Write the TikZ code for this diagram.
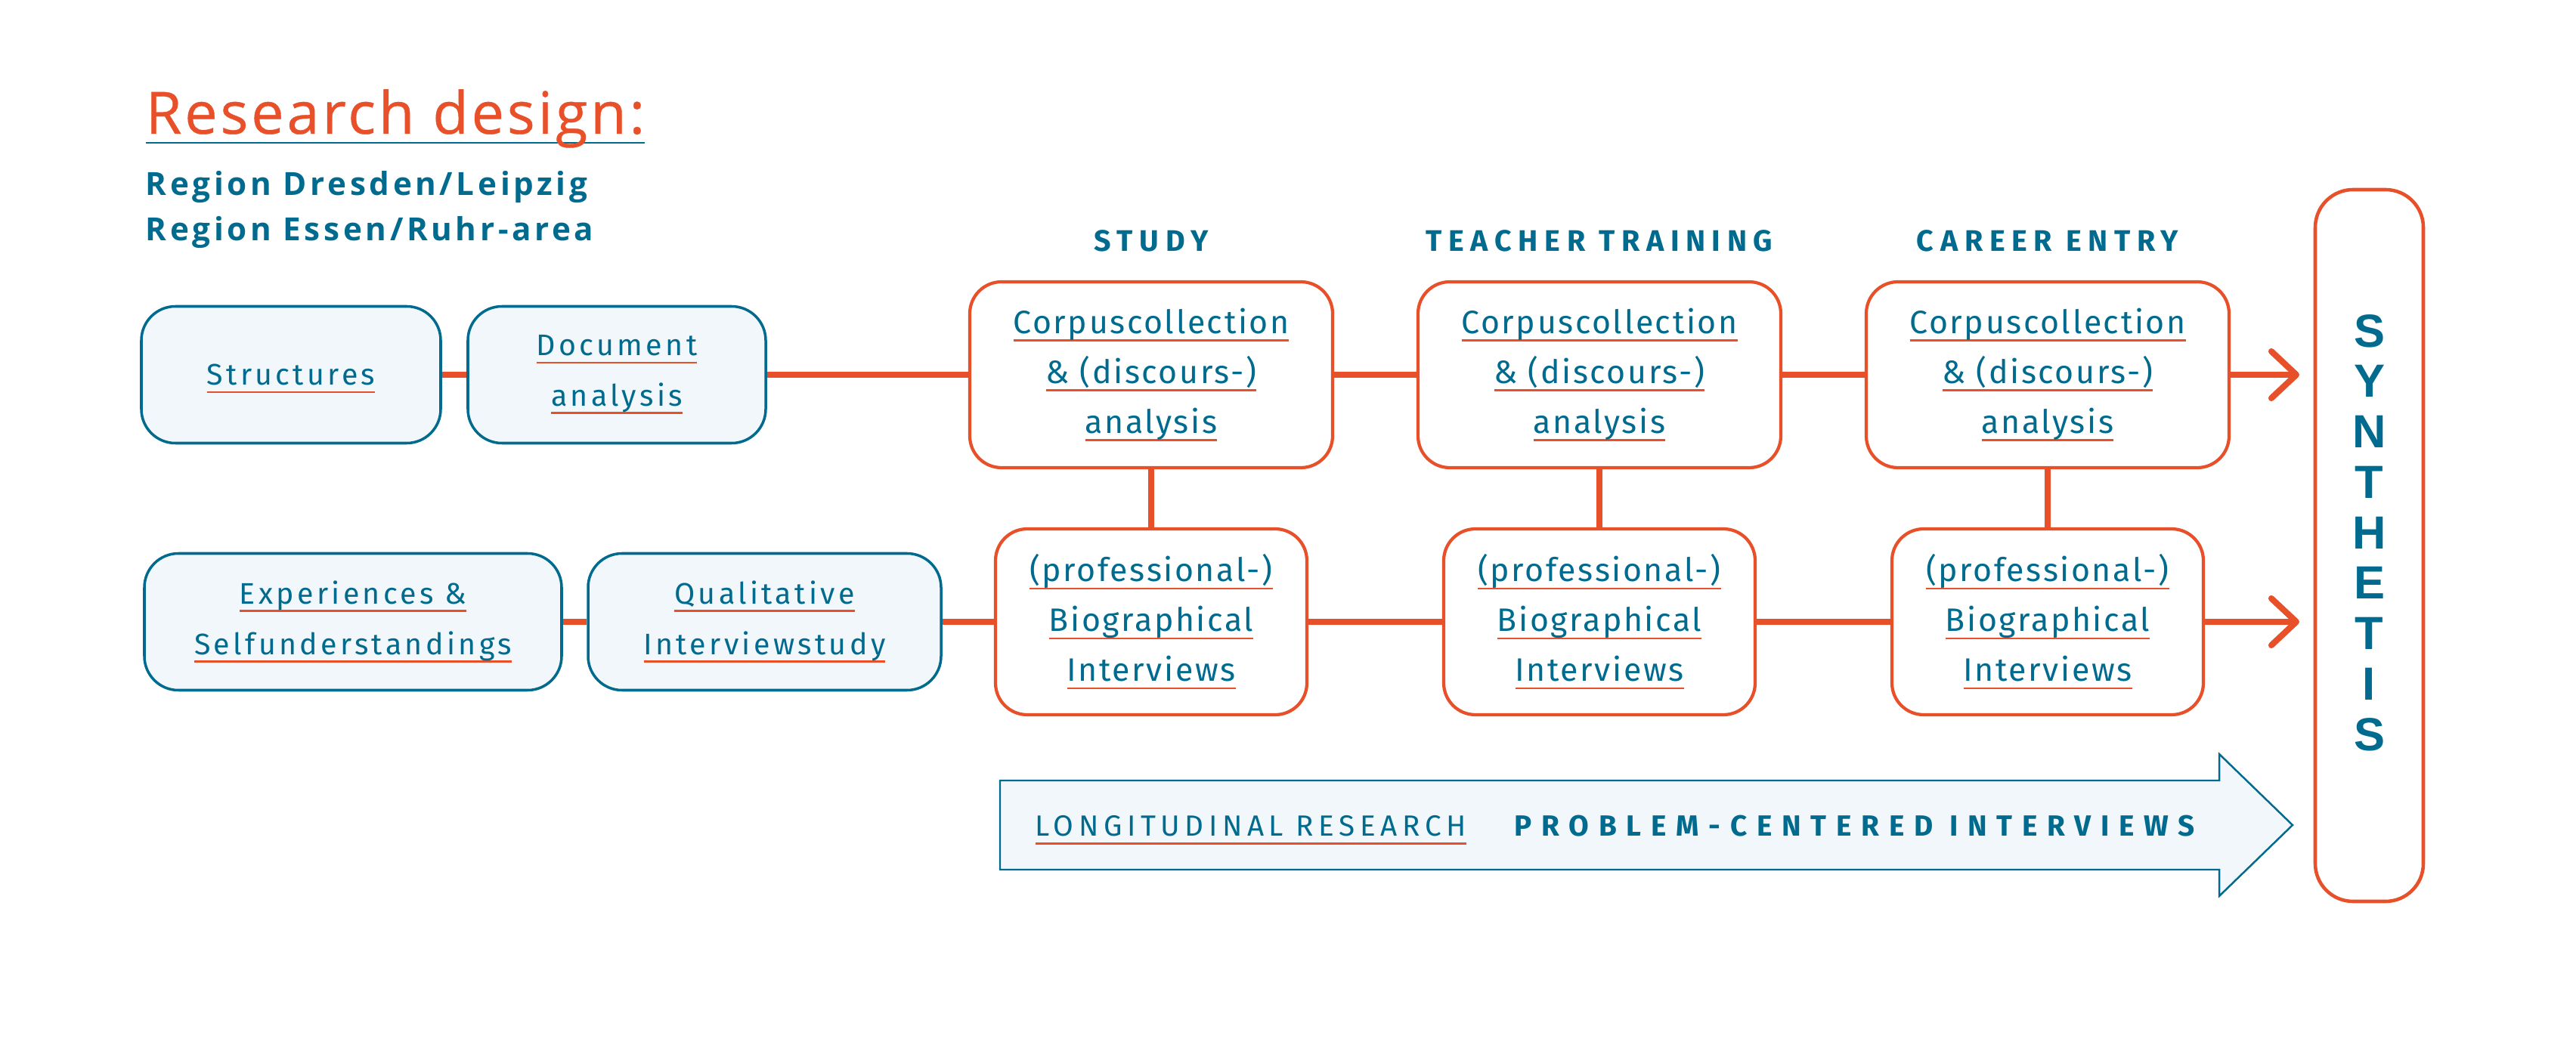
\documentclass[tikz,border=0pt]{standalone}
\usepackage{fontspec}
\setmainfont{Liberation Sans}
\newfontfamily\titlefont[LetterSpace=5, FakeBold=0.5]{Open Sans}
\newfontfamily\boxfont[LetterSpace=6]{Fira Sans}
\newfontfamily\sidefont[LetterSpace=11]{Fira Sans}
\newfontfamily\longfont[LetterSpace=17]{Fira Sans}
\newfontfamily\capsfont[LetterSpace=22]{Fira Sans}
\newfontfamily\widecapsfont[LetterSpace=33]{Fira Sans}
\newfontfamily\regionfont[LetterSpace=11]{Open Sans}
\usepackage{xcolor}
\usetikzlibrary{
    arrows.meta,
    positioning
}

\definecolor{signal}{HTML}{E8502A}
\definecolor{deepteal}{HTML}{006B8E}
\definecolor{paleblue}{HTML}{F1F7FA}

% underlined text: colour, rule offset, text
\newlength{\ulwidth}
\newcommand{\ulraw}[3]{\settowidth{\ulwidth}{#3}\makebox[0pt][l]{\textcolor{#1}{\rule[#2]{\ulwidth}{0.8pt}}}#3}
\newcommand{\uln}[1]{\ulraw{signal}{-3pt}{#1}}

\begin{document}
\begin{tikzpicture}[
    tealbox/.style={draw=deepteal, fill=paleblue, line width=1pt, rounded corners=0.45cm,
        minimum height=1.81cm, align=center, text=deepteal,
        font=\sidefont\fontsize{11.2}{19}\selectfont},
    orangebox/.style={draw=signal, fill=white, line width=1.2pt, rounded corners=0.42cm,
        minimum height=2.46cm, align=center, text=deepteal,
        font=\boxfont\fontsize{12.2}{18.8}\selectfont},
    phase/.style={text=deepteal, inner sep=0pt,
        font=\capsfont\bfseries\fontsize{11.2}{13}\selectfont},
    flow/.style={draw=signal, line width=2.3pt},
    flowend/.style={flow, -{Straight Barb[length=0.33cm, width=0.62cm, round]}}
]
    \useasboundingbox (0,0) rectangle (34.08,-13.95);

    % heading
    \node[anchor=base west, inner sep=0pt, text=signal, font=\titlefont\fontsize{22}{26}\selectfont]
        (title) at (1.92,-1.77) {\ulraw{deepteal}{-3.8pt}{Research design:}};
    \node[anchor=base west, inner sep=0pt, text=deepteal, font=\regionfont\bfseries\fontsize{12}{14}\selectfont]
        (regionA) at (1.92,-2.59) {Region Dresden/Leipzig};
    \node[anchor=base west, inner sep=0pt, text=deepteal, font=\regionfont\bfseries\fontsize{12}{14}\selectfont]
        (regionB) at (1.92,-3.19) {Region Essen/Ruhr-area};

    % upper row
    \node[tealbox, minimum width=3.96cm, text depth=0pt] (struct) at (3.85,-4.96) {\uln{Structures}};
    \node[tealbox, minimum width=3.94cm] (docu) at (8.16,-4.96) {\uln{Document}\\\uln{analysis}};
    \node[orangebox, minimum width=4.8cm] (corpusA) at (15.23,-4.96)
        {\uln{Corpuscollection}\\\uln{\& (discours-)}\\\uln{analysis}};
    \node[orangebox, minimum width=4.8cm] (corpusB) at (21.16,-4.96)
        {\uln{Corpuscollection}\\\uln{\& (discours-)}\\\uln{analysis}};
    \node[orangebox, minimum width=4.8cm] (corpusC) at (27.09,-4.96)
        {\uln{Corpuscollection}\\\uln{\& (discours-)}\\\uln{analysis}};

    \node[phase, above=0.37cm of corpusA] (study) {STUDY};
    \node[phase, above=0.37cm of corpusB] (training) {TEACHER TRAINING};
    \node[phase, above=0.37cm of corpusC] (career) {CAREER ENTRY};

    % lower row
    \node[tealbox, minimum width=5.52cm] (exper) at (4.67,-8.23)
        {\uln{Experiences \&}\\\uln{Selfunderstandings}};
    \node[tealbox, minimum width=4.67cm] (quali) at (10.115,-8.23)
        {\uln{Qualitative}\\\uln{Interviewstudy}};
    \node[orangebox, minimum width=4.12cm] (bioA) at (15.23,-8.23)
        {\uln{(professional-)}\\\uln{Biographical}\\\uln{Interviews}};
    \node[orangebox, minimum width=4.12cm] (bioB) at (21.16,-8.23)
        {\uln{(professional-)}\\\uln{Biographical}\\\uln{Interviews}};
    \node[orangebox, minimum width=4.12cm] (bioC) at (27.09,-8.23)
        {\uln{(professional-)}\\\uln{Biographical}\\\uln{Interviews}};

    % synthesis column
    \node[draw=signal, line width=1.3pt, rounded corners=0.5cm, minimum width=1.43cm,
        minimum height=9.42cm] (synth) at (31.345,-7.22) {};
    \node[text=deepteal, align=center, font=\bfseries\fontsize{17.5}{19}\selectfont]
        (synthlabel) at (31.345,-7.05) {S\\Y\\N\\T\\H\\E\\T\\I\\S};

    \coordinate (tipA) at (30.42,-4.96);
    \coordinate (tipB) at (30.42,-8.23);

    \draw[flow] (struct) -- (docu) -- (corpusA) -- (corpusB) -- (corpusC);
    \draw[flowend] (corpusC) -- (tipA);
    \draw[flow] (exper) -- (quali) -- (bioA) -- (bioB) -- (bioC);
    \draw[flowend] (bioC) -- (tipB);
    \draw[flow] (corpusA) -- (bioA);
    \draw[flow] (corpusB) -- (bioB);
    \draw[flow] (corpusC) -- (bioC);

    % longitudinal arrow
    \draw[draw=deepteal, fill=paleblue, line width=0.7pt]
        (13.23,-10.33) -- (29.36,-10.33) -- (29.36,-9.98) -- (30.33,-10.92)
        -- (29.36,-11.86) -- (29.36,-11.51) -- (13.23,-11.51) -- cycle;
    \node[anchor=base west, inner sep=0pt, text=deepteal, font=\longfont\fontsize{11}{13}\selectfont]
        (longi) at (13.69,-11.07) {\uln{LONGITUDINAL RESEARCH}};
    \node[anchor=base west, inner sep=0pt, text=deepteal, font=\widecapsfont\bfseries\fontsize{11}{13}\selectfont]
        (pci) at (20.03,-11.07) {PROBLEM-CENTERED INTERVIEWS};
\end{tikzpicture}
\end{document}
